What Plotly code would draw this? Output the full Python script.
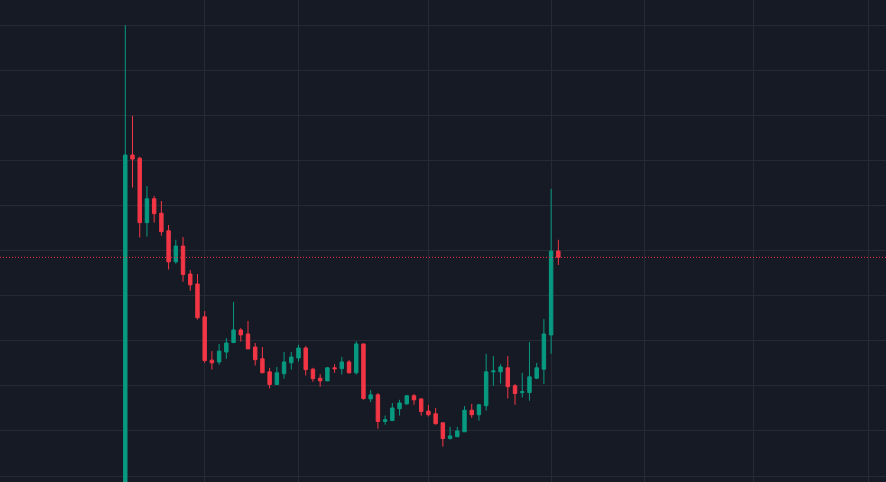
import plotly.graph_objects as go

# candle index (time slot)
idx = list(range(61))

open_ = [12.0, 91.2, 90.5, 76.2, 81.5, 78.3, 74.4, 67.5, 71.0, 64.8,
         62.6, 55.3, 45.7, 45.3, 47.5, 49.6, 52.4, 51.5, 48.6, 46.0,
         43.1, 40.3, 42.7, 45.1, 46.2, 48.4, 43.7, 41.7, 41.1, 44.0,
         43.8, 45.3, 42.9, 49.3, 37.1, 38.0, 32.1, 32.3, 34.9, 36.0,
         37.8, 37.1, 34.4, 33.8, 31.8, 28.3, 28.7, 29.8, 34.6, 33.6,
         35.6, 43.1, 43.1, 44.0, 40.0, 38.5, 38.5, 41.7, 43.7, 51.3,
         69.9]
high = [120.0, 99.9, 90.8, 84.3, 82.1, 81.0, 75.7, 72.4, 73.0, 65.7,
        64.8, 56.6, 47.7, 49.3, 50.6, 58.6, 52.8, 54.4, 49.5, 48.6,
        44.0, 44.2, 47.5, 47.5, 49.1, 48.8, 44.0, 42.6, 44.2, 44.8,
        46.4, 45.7, 49.9, 49.3, 39.1, 38.4, 33.4, 36.2, 36.9, 38.0,
        38.2, 37.3, 35.8, 35.1, 31.8, 30.9, 30.9, 35.5, 36.0, 36.0,
        47.1, 46.6, 44.8, 46.6, 40.4, 42.9, 49.7, 45.1, 54.8, 83.7,
        72.4]
low = [10.5, 84.0, 72.9, 73.1, 76.2, 73.3, 65.8, 67.1, 63.1, 61.1,
       54.7, 45.1, 43.6, 44.7, 46.0, 49.5, 49.8, 48.2, 44.5, 42.9,
       39.4, 40.3, 41.6, 43.6, 45.4, 42.3, 40.9, 39.8, 41.1, 42.9,
       42.5, 42.7, 42.5, 36.9, 36.4, 30.5, 31.4, 32.3, 33.4, 35.8,
       35.8, 33.4, 33.2, 31.4, 26.5, 28.1, 28.7, 29.8, 32.9, 32.3,
       34.5, 40.0, 40.5, 37.2, 35.8, 37.4, 36.7, 41.5, 40.4, 47.1,
       66.8]
close = [91.2, 90.3, 76.2, 81.5, 78.2, 74.2, 67.5, 71.0, 64.7, 62.4,
         55.1, 45.6, 45.1, 47.7, 49.5, 52.4, 51.3, 48.2, 45.8, 42.9,
         40.3, 42.9, 45.3, 46.4, 48.4, 43.6, 41.6, 41.1, 44.0, 43.8,
         45.3, 42.9, 49.3, 37.2, 38.0, 32.1, 32.5, 35.1, 36.2, 37.8,
         36.9, 34.3, 33.6, 31.6, 28.3, 28.9, 30.0, 34.6, 33.6, 35.8,
         43.1, 43.3, 44.2, 39.8, 38.3, 38.7, 42.0, 44.0, 51.5, 69.9,
         68.5]

# time-scale grid positions (in candle slots) and price grid levels
time_ticks = [11, 24, 42, 59, 72, 87, 103]
price_ticks = [20, 30, 40, 50, 60, 70, 80, 90, 100, 110, 120]

UP = "#089981"
DOWN = "#f23645"
BG = "#161a25"
GRID = "#262a35"

fig = go.Figure()
fig.add_trace(go.Candlestick(
    x=idx, open=open_, high=high, low=low, close=close,
    increasing=dict(line=dict(color=UP, width=1), fillcolor=UP),
    decreasing=dict(line=dict(color=DOWN, width=1), fillcolor=DOWN),
    whiskerwidth=0, hoverinfo="skip", showlegend=False,
))

fig.add_hline(y=close[-1], line=dict(color=DOWN, width=1, dash="1px,2px"))

fig.update_layout(
    width=886, height=482,
    margin=dict(l=0, r=0, t=0, b=0),
    paper_bgcolor=BG, plot_bgcolor=BG,
    boxgap=0.32,
    showlegend=False,
    xaxis=dict(range=[-17.36, 105.40], rangeslider=dict(visible=False),
               tickvals=time_ticks, showticklabels=False, showgrid=True,
               gridcolor=GRID, gridwidth=1, zeroline=False, showline=False,
               fixedrange=True),
    yaxis=dict(range=[18.67, 125.59], tickvals=price_ticks,
               showticklabels=False, showgrid=True, gridcolor=GRID,
               gridwidth=1, zeroline=False, showline=False, fixedrange=True),
)

fig.write_html(
    "out.html",
    config={"displayModeBar": False},
    post_script="document.body.style.margin='0';document.body.style.background='%s';" % BG,
)
